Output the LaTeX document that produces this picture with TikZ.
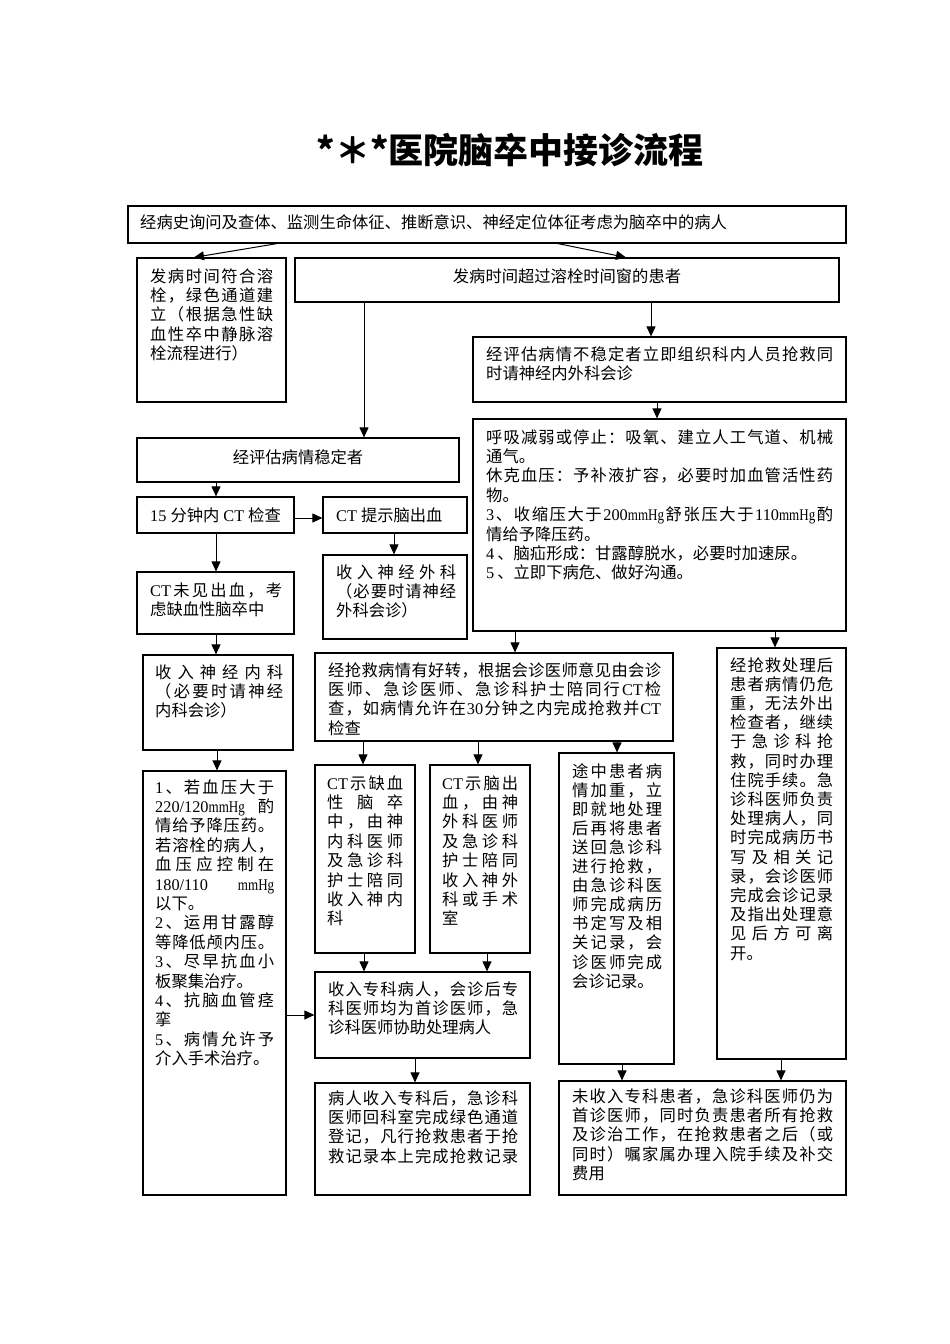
\documentclass[tikz,border=0pt]{standalone}
\usepackage{fontspec}
\usepackage{graphicx}
\setmainfont{Liberation Serif}
\newfontfamily\cjk{Noto Sans CJK SC}
\newfontfamily\latf{Liberation Serif}
\usetikzlibrary{arrows.meta,fit}
\makeatletter
\def\J@end{\J@end}
\def\J@endm{\J@end}
\newcommand\J[1]{\hbox to\hsize{\J@start#1\J@end}}
\def\J@start#1{#1\J@a}
\def\J@a#1{\def\J@tmp{#1}\ifx\J@tmp\J@endm\else\hfil#1\expandafter\J@a\fi}
\makeatother
\newcommand\R[1]{\hbox{#1}}
\newcommand\lt[1]{{\latf #1}}
\newcommand\mm{\scalebox{0.8}[1]{\latf mmHg}}
\newcommand\T[2]{\vtop{\hsize=#1pt\relax #2}}
\newcommand\B[5]{\path (#2,#3) coordinate (#1-nw) (#4,#5) coordinate (#1-se);
  \node[box, fit=(#1-nw)(#1-se)] (#1) {};}
\tikzset{
  box/.style={draw, line width=1.2pt, inner sep=0pt},
  txt/.style={inner sep=0pt, font=\cjk\fontsize{16.3}{19.4}\selectfont},
  arr/.style={line width=1pt, -{Triangle[length=10pt,width=9pt]}}
}
\begin{document}
\begin{tikzpicture}[x=1pt,y=-1pt]
\useasboundingbox (0,0) rectangle (950,1344);
\fill[white] (0,0) rectangle (950,1344);
% title
\node[inner sep=0pt, font=\cjk\bfseries\fontsize{35}{38}\selectfont] (title) at (510,150) {*＊*医院脑卒中接诊流程};
% boxes
\B{b1}{128}{206}{846}{243}
\B{b2}{137}{258}{286}{402}
\B{b3}{295}{258}{839}{302}
\B{b4}{473}{337}{846}{402}
\B{b5}{473}{419}{846}{631}
\B{b6}{137}{438}{459}{482}
\B{b7}{137}{497}{294}{533}
\B{b8}{323}{497}{467}{533}
\B{b9}{137}{572}{294}{634}
\B{b10}{323}{555}{467}{639}
\B{b11}{143}{655}{293}{750}
\B{b12}{315}{653}{673}{741}
\B{b13}{717}{648}{846}{1059}
\B{b14}{143}{771}{286}{1195}
\B{b15}{315}{765}{415}{953}
\B{b16}{430}{765}{530}{953}
\B{b17}{559}{753}{674}{1064}
\B{b18}{315}{972}{530}{1058}
\B{b19}{315}{1083}{530}{1195}
\B{b20}{559}{1081}{846}{1195}
% texts
\node[txt, anchor=base west] (t1) at (140,228) {经病史询问及查体、监测生命体征、推断意识、神经定位体征考虑为脑卒中的病人};
\node[txt, anchor=base west] (t2) at (150,282) {\T{123}{\J{发病时间符合溶}\J{栓，绿色通道建}\J{立（根据急性缺}\J{血性卒中静脉溶}\R{栓流程进行）}}};
\node[txt, anchor=base] (t3) at (567,282) {发病时间超过溶栓时间窗的患者};
\node[txt, anchor=base west] (t4) at (486,360) {\T{347}{\J{经评估病情不稳定者立即组织科内人员抢救同}\R{时请神经内外科会诊}}};
\node[txt, anchor=base west] (t5) at (486,443) {\T{347}{\J{呼吸减弱或停止：吸氧、建立人工气道、机械}\R{通气。}\J{休克血压：予补液扩容，必要时加血管活性药}\R{物。}\J{{\lt{3}}、收缩压大于{\lt{200}\mm}舒张压大于{\lt{110}\mm}酌}\R{情给予降压药。}\R{\lt{4}\hspace{3pt}、脑疝形成：甘露醇脱水，必要时加速尿。}\R{\lt{5}\hspace{3pt}、立即下病危、做好沟通。}}};
\node[txt, anchor=base] (t6) at (298,463) {经评估病情稳定者};
\node[txt, anchor=base west] (t7) at (150,521) {\lt{15}\hspace{4pt}分钟内\hspace{4pt}\lt{CT}\hspace{4pt}检查};
\node[txt, anchor=base west] (t8) at (336,521) {\lt{CT}\hspace{4pt}提示脑出血};
\node[txt, anchor=base west] (t9) at (150,596) {\T{132}{\J{{\lt{CT}}未见出血，考}\R{虑缺血性脑卒中}}};
\node[txt, anchor=base west] (t10) at (336,578) {\T{120}{\J{收入神经外科}\J{（必要时请神经}\R{外科会诊）}}};
\node[txt, anchor=base west] (t11) at (155,678) {\T{128}{\J{收入神经内科}\J{（必要时请神经}\R{内科会诊）}}};
\node[txt, anchor=base west] (t12) at (328,676) {\T{333}{\J{经抢救病情有好转，根据会诊医师意见由会诊}\J{医师、急诊医师、急诊科护士陪同行{\lt{CT}}检}\J{查，如病情允许在{\lt{30}}分钟之内完成抢救并{\lt{CT}}}\R{检查}}};
\node[txt, anchor=base west] (t13) at (730,671) {\T{103}{\baselineskip=19.2pt \J{经抢救处理后}\J{患者病情仍危}\J{重，无法外出}\J{检查者，继续}\J{于急诊科抢}\J{救，同时办理}\J{住院手续。急}\J{诊科医师负责}\J{处理病人，同}\J{时完成病历书}\J{写及相关记}\J{录，会诊医师}\J{完成会诊记录}\J{及指出处理意}\J{见后方可离}\R{开。}}};
\node[txt, anchor=base west] (t14) at (155,793) {\T{119}{\J{{\lt{1}}、若血压大于}\J{{\lt{220/120}\mm}酌}\J{情给予降压药。}\J{若溶栓的病人，}\J{血压应控制在}\J{{\lt{180/110}}{\mm}}\R{以下。}\J{{\lt{2}}、运用甘露醇}\J{等降低颅内压。}\J{{\lt{3}}、尽早抗血小}\R{板聚集治疗。}\J{{\lt{4}}、抗脑血管痉}\R{挛}\J{{\lt{5}}、病情允许予}\R{介入手术治疗。}}};
\node[txt, anchor=base west] (t15) at (327,789) {\T{76}{\J{{\lt{CT}}示缺血}\J{性脑卒}\J{中，由神}\J{内科医师}\J{及急诊科}\J{护士陪同}\J{收入神内}\R{科}}};
\node[txt, anchor=base west] (t16) at (442,789) {\T{76}{\J{{\lt{CT}}示脑出}\J{血，由神}\J{外科医师}\J{及急诊科}\J{护士陪同}\J{收入神外}\J{科或手术}\R{室}}};
\node[txt, anchor=base west] (t17) at (572,777) {\T{90}{\baselineskip=19.1pt \J{途中患者病}\J{情加重，立}\J{即就地处理}\J{后再将患者}\J{送回急诊科}\J{进行抢救，}\J{由急诊科医}\J{师完成病历}\J{书定写及相}\J{关记录，会}\J{诊医师完成}\R{会诊记录。}}};
\node[txt, anchor=base west] (t18) at (328,995) {\T{190}{\J{收入专科病人，会诊后专}\J{科医师均为首诊医师，急}\R{诊科医师协助处理病人}}};
\node[txt, anchor=base west] (t19) at (328,1104) {\T{190}{\J{病人收入专科后，急诊科}\J{医师回科室完成绿色通道}\J{登记，凡行抢救患者于抢}\J{救记录本上完成抢救记录}}};
\node[txt, anchor=base west] (t20) at (572,1102) {\T{261}{\J{未收入专科患者，急诊科医师仍为}\J{首诊医师，同时负责患者所有抢救}\J{及诊治工作，在抢救患者之后（或}\J{同时）嘱家属办理入院手续及补交}\R{费用}}};
% arrows
\draw[arr] (b1.south -| 277,0) -- (b2.north -| 194,0);
\draw[arr] (b1.south -| 558,0) -- (b3.north -| 626,0);
\draw[arr] (b3.south -| 364,0) -- (b6.north -| 364,0);
\draw[arr] (b3.south -| 651,0) -- (b4.north -| 651,0);
\draw[arr] (b4.south -| 657,0) -- (b5.north -| 657,0);
\draw[arr] (b6.south -| 216,0) -- (b7.north -| 216,0);
\draw[arr] (b7.east |- 0,518) -- (b8.west |- 0,518);
\draw[arr] (b8.south -| 394,0) -- (b10.north -| 394,0);
\draw[arr] (b7.south -| 216,0) -- (b9.north -| 216,0);
\draw[arr] (b9.south -| 216,0) -- (b11.north -| 216,0);
\draw[arr] (b11.south -| 217,0) -- (b14.north -| 217,0);
\draw[arr] (b5.south -| 515,0) -- (b12.north -| 515,0);
\draw[arr] (b5.south -| 775,0) -- (b13.north -| 775,0);
\draw[arr] (b12.south -| 363,0) -- (b15.north -| 363,0);
\draw[arr] (b12.south -| 478,0) -- (b16.north -| 478,0);
\draw[arr] (b12.south -| 617,0) -- (b17.north -| 617,0);
\draw[arr] (b15.south -| 364,0) -- (b18.north -| 364,0);
\draw[arr] (b16.south -| 487,0) -- (b18.north -| 487,0);
\draw[arr] (b14.east |- 0,1015) -- (b18.west |- 0,1015);
\draw[arr] (b18.south -| 415,0) -- (b19.north -| 415,0);
\draw[arr] (b17.south -| 622,0) -- (b20.north -| 622,0);
\draw[arr] (b13.south -| 781,0) -- (b20.north -| 781,0);
\end{tikzpicture}
\end{document}
